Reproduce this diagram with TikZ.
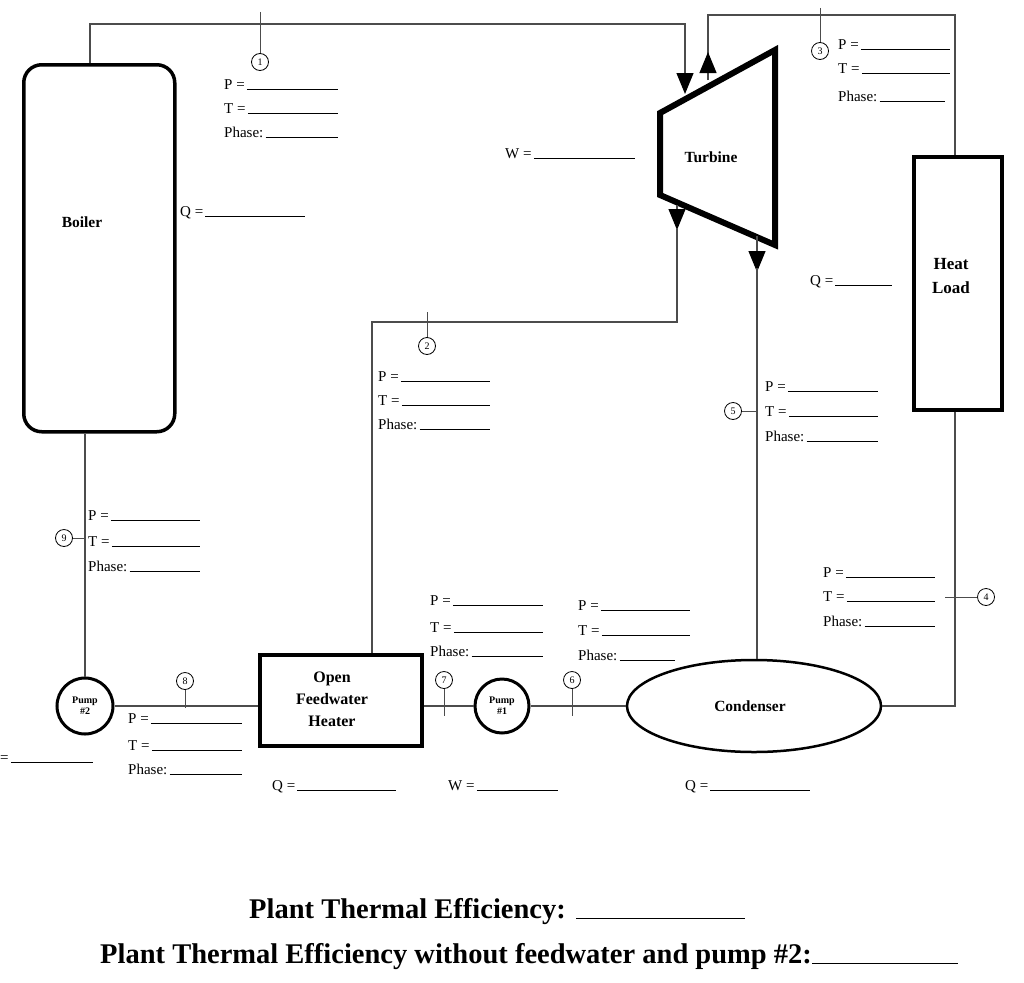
\documentclass[tikz,border=0pt]{standalone}
\usepackage{fontspec}
\setmainfont{Liberation Serif}
\usetikzlibrary{arrows.meta,shapes.geometric}
\newcommand{\fld}[5]{\node[lbl,anchor=base west] (#1) at (#2,#3) {#4}; \draw[blank] (#1.base east) ++(2,0) -- (#5,#3);}
\begin{document}
\begin{tikzpicture}[x=1pt,y=-1pt,
  pipe/.style={draw=black!70,line width=1.2pt},
  blk/.style={draw=black,line width=3.5pt,fill=white},
  lbl/.style={font=\fontsize{15}{15}\selectfont,inner sep=0pt},
  bl/.style={font=\fontsize{15.5}{18}\selectfont\bfseries,align=center,inner sep=0pt},
  blank/.style={draw=black,line width=0.8pt},
  num/.style={circle,draw=black,line width=0.8pt,minimum size=17pt,inner sep=0pt,font=\fontsize{10}{10}\selectfont,fill=white},
  tip/.style={-{Triangle[length=21pt,width=17pt,color=black]}},
  title/.style={font=\fontsize{28.5}{29}\selectfont\bfseries,inner sep=0pt,anchor=base west}]
\useasboundingbox (0,0) rectangle (1024,982);
% equipment
\node[blk,rounded corners=18pt,minimum width=151pt,minimum height=367pt,anchor=north west] (boiler) at (22,63) {};
\node[bl] at (82,222) {Boiler};
\draw[blk,line width=6pt] (660,113) -- (775,50) -- (775,245) -- (660,195) -- cycle;
\node[bl] at (711,157) {Turbine};
\node[blk,minimum width=88pt,minimum height=253pt,anchor=north west] (hl) at (912,155) {};
\node[bl,font=\fontsize{17}{24}\selectfont\bfseries] at (951,276) {Heat\\Load};
\node[draw,ellipse,line width=2.5pt,minimum width=254pt,minimum height=92pt,fill=white] (cond) at (754,706) {};
\node[bl] at (750,706) {Condenser};
\node[circle,draw,line width=3pt,minimum size=54pt,inner sep=0pt,fill=white] (p1) at (502,706) {};
\node[bl,font=\fontsize{10}{11}\selectfont\bfseries] at (502,706) {Pump\\\#1};
\node[circle,draw,line width=3pt,minimum size=56pt,inner sep=0pt,fill=white] (p2) at (85,706) {};
\node[bl,font=\fontsize{10}{11}\selectfont\bfseries] at (85,706) {Pump\\\#2};
\node[blk,minimum width=162pt,minimum height=91pt,anchor=north west] (fwh) at (258,653) {};
\node[bl,font=\fontsize{16}{22}\selectfont\bfseries] at (332,699) {Open\\Feedwater\\Heater};
% pipes
\draw[pipe] (boiler.north-|90,0) -- (90,24) -- (685,24) -- (685,60);
\draw[pipe,tip] (685,50) -- (685,94);
\draw[pipe] (708,60) -- (708,15) -- (955,15) -- (hl.north-|955,0);
\draw[pipe,tip] (708,80) -- (708,52);
\draw[pipe,tip] (677,205) -- (677,230);
\draw[pipe] (677,228) -- (677,322) -- (372,322) -- (fwh.north-|372,0);
\draw[pipe,tip] (757,236) -- (757,272);
\draw[pipe] (757,268) -- (cond.north-|757,0);
\draw[pipe] (hl.south-|955,0) -- (955,706) -- (cond.east);
\draw[pipe] (cond.west) -- (p1.east);
\draw[pipe] (p1.west) -- (fwh.east|-p1.west);
\draw[pipe] (fwh.west|-p2.east) -- (p2.east);
\draw[pipe] (p2.north) -- (boiler.south-|85,0);
% state points
\node[num] (n1) at (260,62) {1}; \draw[pipe,line width=0.8pt] (260,12) -- (n1.north);
\node[num] (n3) at (820,51) {3}; \draw[pipe,line width=0.8pt] (820,8) -- (n3.north);
\node[num] (n2) at (427,346) {2}; \draw[pipe,line width=0.8pt] (427,312) -- (n2.north);
\node[num] (n5) at (733,411) {5}; \draw[pipe,line width=0.8pt] (n5.east) -- (757,411);
\node[num] (n9) at (64,538) {9}; \draw[pipe,line width=0.8pt] (n9.east) -- (85,538);
\node[num] (n4) at (986,597) {4}; \draw[pipe,line width=0.8pt] (945,597) -- (n4.west);
\node[num] (n6) at (572,680) {6}; \draw[pipe,line width=0.8pt] (n6.south) -- (572,716);
\node[num] (n7) at (444,680) {7}; \draw[pipe,line width=0.8pt] (n7.south) -- (444,716);
\node[num] (n8) at (185,681) {8}; \draw[pipe,line width=0.8pt] (n8.south) -- (185,708);
% fields
\fld{a1}{224}{89}{P =}{338} \fld{a2}{224}{113}{T =}{338} \fld{a3}{224}{137}{Phase:}{338}
\fld{b1}{838}{49}{P =}{950} \fld{b2}{838}{73}{T =}{950} \fld{b3}{838}{101}{Phase:}{945}
\fld{c1}{378}{381}{P =}{490} \fld{c2}{378}{405}{T =}{490} \fld{c3}{378}{429}{Phase:}{490}
\fld{d1}{765}{391}{P =}{878} \fld{d2}{765}{416}{T =}{878} \fld{d3}{765}{441}{Phase:}{878}
\fld{e1}{88}{520}{P =}{200} \fld{e2}{88}{546}{T =}{200} \fld{e3}{88}{571}{Phase:}{200}
\fld{f1}{823}{577}{P =}{935} \fld{f2}{823}{601}{T =}{935} \fld{f3}{823}{626}{Phase:}{935}
\fld{g1}{430}{605}{P =}{543} \fld{g2}{430}{632}{T =}{543} \fld{g3}{430}{656}{Phase:}{543}
\fld{h1}{578}{610}{P =}{690} \fld{h2}{578}{635}{T =}{690} \fld{h3}{578}{660}{Phase:}{675}
\fld{i1}{128}{723}{P =}{242} \fld{i2}{128}{750}{T =}{242} \fld{i3}{128}{774}{Phase:}{242}
\fld{q1}{180}{216}{Q =}{305}
\fld{w1}{505}{158}{W =}{635}
\fld{q2}{810}{285}{Q =}{892}
\fld{q3}{272}{790}{Q =}{396}
\fld{w2}{448}{790}{W =}{558}
\fld{q4}{685}{790}{Q =}{810}
\fld{w3}{-18}{762}{W =}{93}
% titles
\node[title] (t1) at (249,918) {Plant Thermal Efficiency:};
\draw[line width=1pt] (576,918) -- (745,918);
\node[title] (t2) at (100,963) {Plant Thermal Efficiency without feedwater and pump \#2:};
\draw[line width=1pt] (t2.base east) -- (958,963);
\end{tikzpicture}
\end{document}
